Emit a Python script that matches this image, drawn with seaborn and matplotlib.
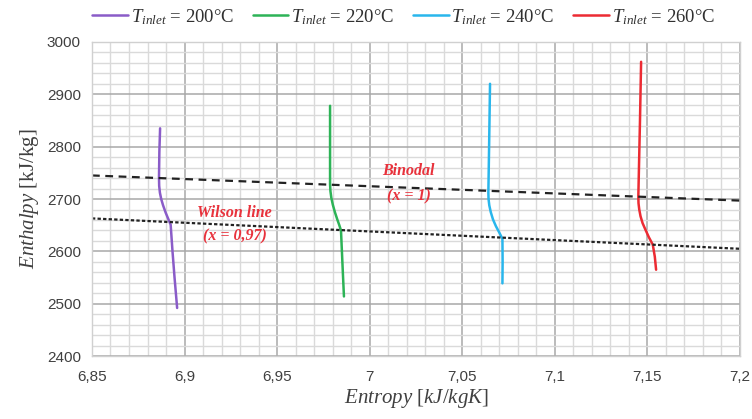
import numpy as np
import pandas as pd
import matplotlib
matplotlib.use("Agg")
import matplotlib.pyplot as plt
import seaborn as sns
from matplotlib.ticker import MultipleLocator, FixedLocator, FixedFormatter

# ---- data ----
series_names = ["$T_{inlet}$ = 200°C", "$T_{inlet}$ = 220°C",
                "$T_{inlet}$ = 240°C", "$T_{inlet}$ = 260°C"]
colors = ["#8A5CC8", "#2DB357", "#29B6EC", "#EC2B33"]

s200 = [6.8868, 6.8864, 6.8862, 6.8863, 6.8867, 6.8874, 6.8884, 6.8898, 6.8912, 6.8925, 6.8935, 6.8946, 6.8960]
h200 = [2835, 2790, 2741, 2725, 2712, 2700, 2688, 2674, 2662, 2651, 2600, 2550, 2492]
s220 = [6.9786, 6.9786, 6.9786, 6.9788, 6.9793, 6.9801, 6.9812, 6.9825, 6.9836, 6.9845, 6.9850, 6.9855, 6.9861]
h220 = [2878, 2800, 2728, 2715, 2702, 2689, 2675, 2661, 2650, 2640, 2600, 2560, 2514]
s240 = [7.0650, 7.0645, 7.0641, 7.0642, 7.0646, 7.0654, 7.0666, 7.0682, 7.0700, 7.0717, 7.0718, 7.0717]
h240 = [2920, 2800, 2712, 2700, 2688, 2675, 2661, 2648, 2636, 2624, 2580, 2539]
s260 = [7.1466, 7.1460, 7.1451, 7.1452, 7.1456, 7.1463, 7.1474, 7.1490, 7.1508, 7.1529, 7.1540, 7.1547]
h260 = [2962, 2850, 2704, 2692, 2680, 2667, 2654, 2641, 2627, 2613, 2590, 2565]

binodal_s = [6.85, 7.20]
binodal_h = [2745, 2697]
wilson_s = [6.85, 7.20]
wilson_h = [2663, 2605]

x_ticks = [6.85, 6.90, 6.95, 7.00, 7.05, 7.10, 7.15, 7.20]
x_tick_labels = ["6,85", "6,9", "6,95", "7", "7,05", "7,1", "7,15", "7,2"]
y_ticks = [2400, 2500, 2600, 2700, 2800, 2900, 3000]

frames = []
for name, s, h in zip(series_names, [s200, s220, s240, s260], [h200, h220, h240, h260]):
    frames.append(pd.DataFrame({"s": s, "h": h, "series": name, "order": np.arange(len(s))}))
df = pd.concat(frames, ignore_index=True)

sns.set_style("white")
plt.rcParams["mathtext.fontset"] = "custom"
plt.rcParams["mathtext.rm"] = "Liberation Serif"
plt.rcParams["mathtext.it"] = "Liberation Serif:italic"
plt.rcParams["mathtext.bf"] = "Liberation Serif:bold"
plt.rcParams["font.family"] = ["Liberation Sans", "DejaVu Sans"]

fig = plt.figure(figsize=(7.52, 4.19), dpi=100)
ax = fig.add_axes([0.1223, 0.150, 0.8617, 0.750])

# grid
ax.xaxis.set_minor_locator(MultipleLocator(0.01))
ax.yaxis.set_minor_locator(MultipleLocator(20))
ax.xaxis.set_major_locator(FixedLocator(x_ticks))
ax.xaxis.set_major_formatter(FixedFormatter(x_tick_labels))
ax.yaxis.set_major_locator(FixedLocator(y_ticks))
ax.grid(which="minor", color="#dadada", lw=1.0, zorder=0)
ax.grid(which="major", color="#a8a8a8", lw=1.1, zorder=0)
ax.set_axisbelow(True)

sns.lineplot(data=df, x="s", y="h", hue="series", palette=colors, sort=False,
             estimator=None, units="series", lw=1.8, ax=ax, legend=True)

ax.plot(binodal_s, binodal_h, color="#222222", lw=1.6, dashes=(3.5, 2.5))
ax.plot(wilson_s, wilson_h, color="#222222", lw=1.6, dashes=(1.5, 1.0))

txt_kw = dict(color="#E8323C", fontsize=11.5, fontweight="bold", style="italic",
              family="Liberation Serif", ha="center", va="center")
ax.text(6.927, 2674, "Wilson line", **txt_kw)
ax.text(6.927, 2628, "(x = 0,97)", **txt_kw)
ax.text(7.021, 2753, "Binodal", **txt_kw)
ax.text(7.021, 2705, "(x = 1)", **txt_kw)

ax.set_xlim(6.85, 7.20)
ax.set_ylim(2400, 3000)
ax.tick_params(axis="both", which="both", length=0, labelsize=11, labelcolor="#404040")
ax.tick_params(axis="x", pad=10)
ax.tick_params(axis="y", pad=8)
for sp in ax.spines.values():
    sp.set_color("#d0d0d0")
    sp.set_linewidth(1.0)

ax.set_xlabel(r"$\mathit{Entropy}\ [kJ/kgK]$", fontsize=15, color="#404040", labelpad=2,
              family="Liberation Serif")
ax.set_ylabel(r"$\mathit{Enthalpy}$ [kJ/kg]", fontsize=15, color="#404040", labelpad=4,
              family="Liberation Serif")

leg = ax.legend(loc="center", bbox_to_anchor=(0.481, 1.08), ncol=4, frameon=False,
                prop={"family": "Liberation Serif", "size": 13.5},
                handlelength=1.9, handletextpad=0.15, columnspacing=1.0)
for t in leg.get_texts():
    t.set_color("#303030")

fig.savefig("out.png", dpi=100)
